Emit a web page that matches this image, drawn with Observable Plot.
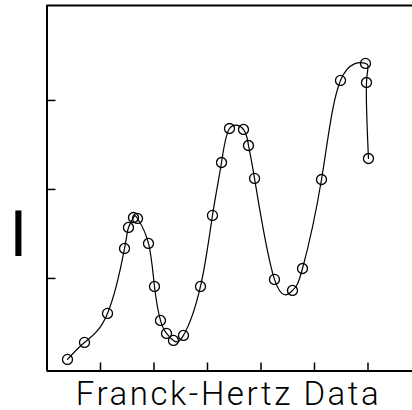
<!DOCTYPE html>
<html>
<head>
<meta charset="utf-8">
<script src="https://cdn.jsdelivr.net/npm/d3@7"></script>
<script src="https://cdn.jsdelivr.net/npm/@observablehq/plot@0.6"></script>
<style>
  html, body { margin: 0; padding: 0; background: #fff; overflow: hidden; }
</style>
</head>
<body>
<div id="chart"></div>
<script>
// Franck-Hertz data (voltage in tick units, current in tick units)
const voltage = [0.383, 0.701, 1.131, 1.449, 1.523, 1.617, 1.692, 1.897, 2.009, 2.121, 2.234, 2.364, 2.551, 2.869,
                 3.093, 3.262, 3.411, 3.673, 3.766, 3.879, 4.252, 4.589, 4.776, 5.131, 5.486, 5.953, 5.972, 6.009];
const current = [0.090, 0.281, 0.607, 1.337, 1.573, 1.685, 1.674, 1.393, 0.910, 0.528, 0.382, 0.303, 0.360, 0.910,
                 1.708, 2.303, 2.685, 2.674, 2.494, 2.124, 0.989, 0.865, 1.112, 2.112, 3.225, 3.416, 3.202, 2.348];
const xTicks = [1, 2, 3, 4, 5, 6];
const yTicks = [1, 2, 3];
const yLabel = "I";
const title = "Franck-Hertz Data";

const data = voltage.map((v, i) => ({v, c: current[i]}));
const xDomain = [0, 6.832];
const yDomain = [-0.04, 4.067];

const chart = Plot.plot({
  width: 412,
  height: 410,
  marginLeft: 46.5,
  marginRight: 0,
  marginTop: 5,
  marginBottom: 39.5,
  style: {background: "#fff", overflow: "visible"},
  x: {domain: xDomain, axis: null},
  y: {domain: yDomain, axis: null},
  marks: [
    Plot.axisX({ticks: xTicks, tickSize: -8, tickFormat: () => "", strokeWidth: 1.5, label: null, stroke: "#000"}),
    Plot.axisY({ticks: yTicks, tickSize: -9, tickFormat: () => "", strokeWidth: 1.5, label: null, stroke: "#000"}),
    Plot.ruleX([xDomain[0]], {stroke: "#000", strokeWidth: 2}),
    Plot.ruleY([yDomain[0], yDomain[1]], {stroke: "#000", strokeWidth: 2}),
    Plot.line(data, {x: "v", y: "c", curve: "natural", stroke: "#000", strokeWidth: 1.2}),
    Plot.dot(data, {x: "v", y: "c", r: 5, stroke: "#000", strokeWidth: 1.3, fill: "none"}),
    Plot.text([yLabel], {frameAnchor: "left", y: () => 1.48, text: d => d, dx: -28.5, fontSize: 62,
      fontFamily: "DejaVu Sans", textAnchor: "middle", fill: "#000"}),
    Plot.text([title], {frameAnchor: "bottom", text: d => d, dx: -2.5, dy: 34, fontSize: 33,
      fontFamily: "Roboto", fontWeight: 300, textAnchor: "middle", fill: "#000", className: "title-text"})
  ]
});
document.getElementById("chart").append(chart);
const t = chart.querySelector(".title-text text");
if (t) {
  t.setAttribute("textLength", "303");
  t.setAttribute("lengthAdjust", "spacing");
}
</script>
</body>
</html>
